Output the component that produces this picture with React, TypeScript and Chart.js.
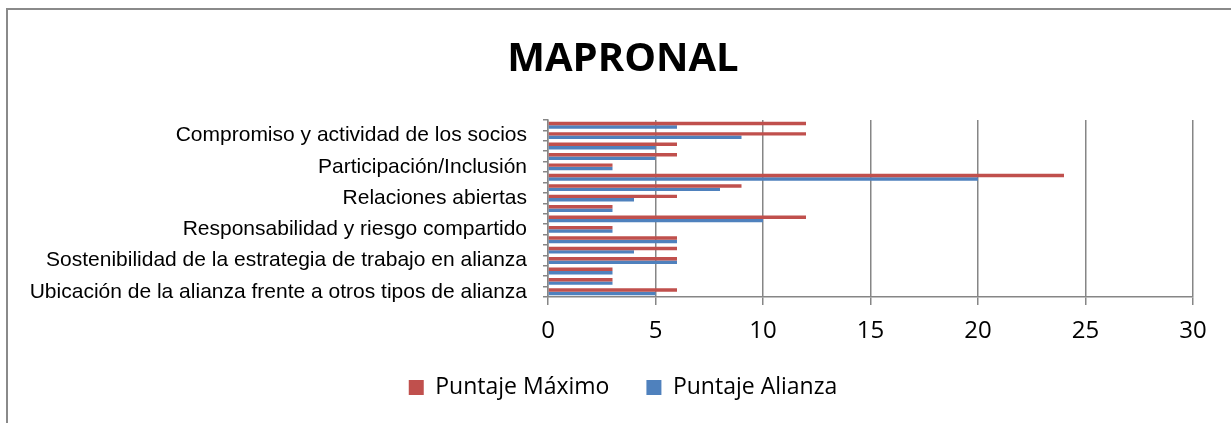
import React, { useEffect, useRef } from 'react';
import { Chart, registerables } from 'chart.js';

Chart.register(...registerables);

const categories = [
  '',
  'Compromiso y actividad de los socios',
  '',
  '',
  'Participación/Inclusión',
  '',
  '',
  'Relaciones abiertas',
  '',
  '',
  'Responsabilidad y riesgo compartido',
  '',
  '',
  'Sostenibilidad de la estrategia de trabajo en alianza',
  '',
  '',
  'Ubicación de la alianza frente a otros tipos de alianza',
];
const puntajeMaximo = [12, 12, 6, 6, 3, 24, 9, 6, 3, 12, 3, 6, 6, 6, 3, 3, 6];
const puntajeAlianza = [6, 9, 5, 5, 3, 20, 8, 4, 3, 10, 3, 6, 4, 6, 3, 3, 5];
const xMin = 0;
const xMax = 30;
const xStep = 5;

const GRID = '#868686';

export default function App() {
  const ref = useRef<HTMLCanvasElement | null>(null);

  useEffect(() => {
    if (!ref.current) return;
    const chart = new Chart(ref.current, {
      type: 'bar',
      data: {
        labels: categories,
        datasets: [
          {
            label: 'Puntaje Máximo',
            data: puntajeMaximo,
            backgroundColor: '#C0504D',
            borderWidth: 0,
            categoryPercentage: 0.66,
            barPercentage: 1,
          },
          {
            label: 'Puntaje Alianza',
            data: puntajeAlianza,
            backgroundColor: '#4F81BD',
            borderWidth: 0,
            categoryPercentage: 0.66,
            barPercentage: 1,
          },
        ],
      },
      options: {
        indexAxis: 'y',
        responsive: false,
        animation: false,
        layout: { padding: { left: 0, right: 0, top: 0, bottom: 41 } },
        plugins: {
          title: {
            display: true,
            text: 'MAPRONAL',
            color: '#000',
            font: { family: 'Open Sans', size: 40, weight: 'bold', lineHeight: 1.2 },
            padding: { top: 26, bottom: 36 },
          },
          legend: {
            position: 'bottom',
            labels: {
              boxWidth: 15,
              boxHeight: 15,
              padding: 37,
              color: '#000',
              font: { family: 'Open Sans', size: 23 },
            },
          },
          tooltip: { enabled: false },
        },
        scales: {
          x: {
            min: xMin,
            max: xMax,
            ticks: {
              stepSize: xStep,
              color: '#000',
              font: { family: 'Open Sans', size: 24 },
              padding: 12,
            },
            grid: { color: GRID, lineWidth: 1.5, tickLength: 8 },
            border: { color: GRID, width: 1.5 },
            afterFit: (s: any) => {
              s.height = 42;
            },
          },
          y: {
            ticks: {
              autoSkip: false,
              color: '#000',
              font: { family: 'Liberation Sans', size: 21 },
              padding: 16,
            },
            grid: {
              drawOnChartArea: false,
              color: GRID,
              lineWidth: 1.5,
              tickLength: 5,
              offset: true,
            },
            border: { color: GRID, width: 1.5 },
            afterFit: (s: any) => {
              s.width = 540;
            },
          },
          rightSpace: {
            type: 'linear',
            position: 'right',
            display: true,
            grid: { display: false },
            ticks: { display: false },
            border: { display: false },
            afterFit: (s: any) => {
              s.width = 45;
            },
          },
        },
      },
    });
    return () => chart.destroy();
  }, []);

  return (
    <div
      style={{
        position: 'fixed',
        left: 0,
        top: 0,
        width: 1231,
        height: 423,
        overflow: 'hidden',
        background: '#fff',
      }}
    >
      <div
        style={{
          position: 'absolute',
          left: 6,
          top: 8,
          width: 1230,
          height: 440,
          borderLeft: '2px solid #8a8a8a',
          borderTop: '2px solid #8a8a8a',
          background: '#fff',
        }}
      >
        <canvas ref={ref} width={1230} height={440} style={{ display: 'block', width: 1230, height: 440 }} />
      </div>
    </div>
  );
}
